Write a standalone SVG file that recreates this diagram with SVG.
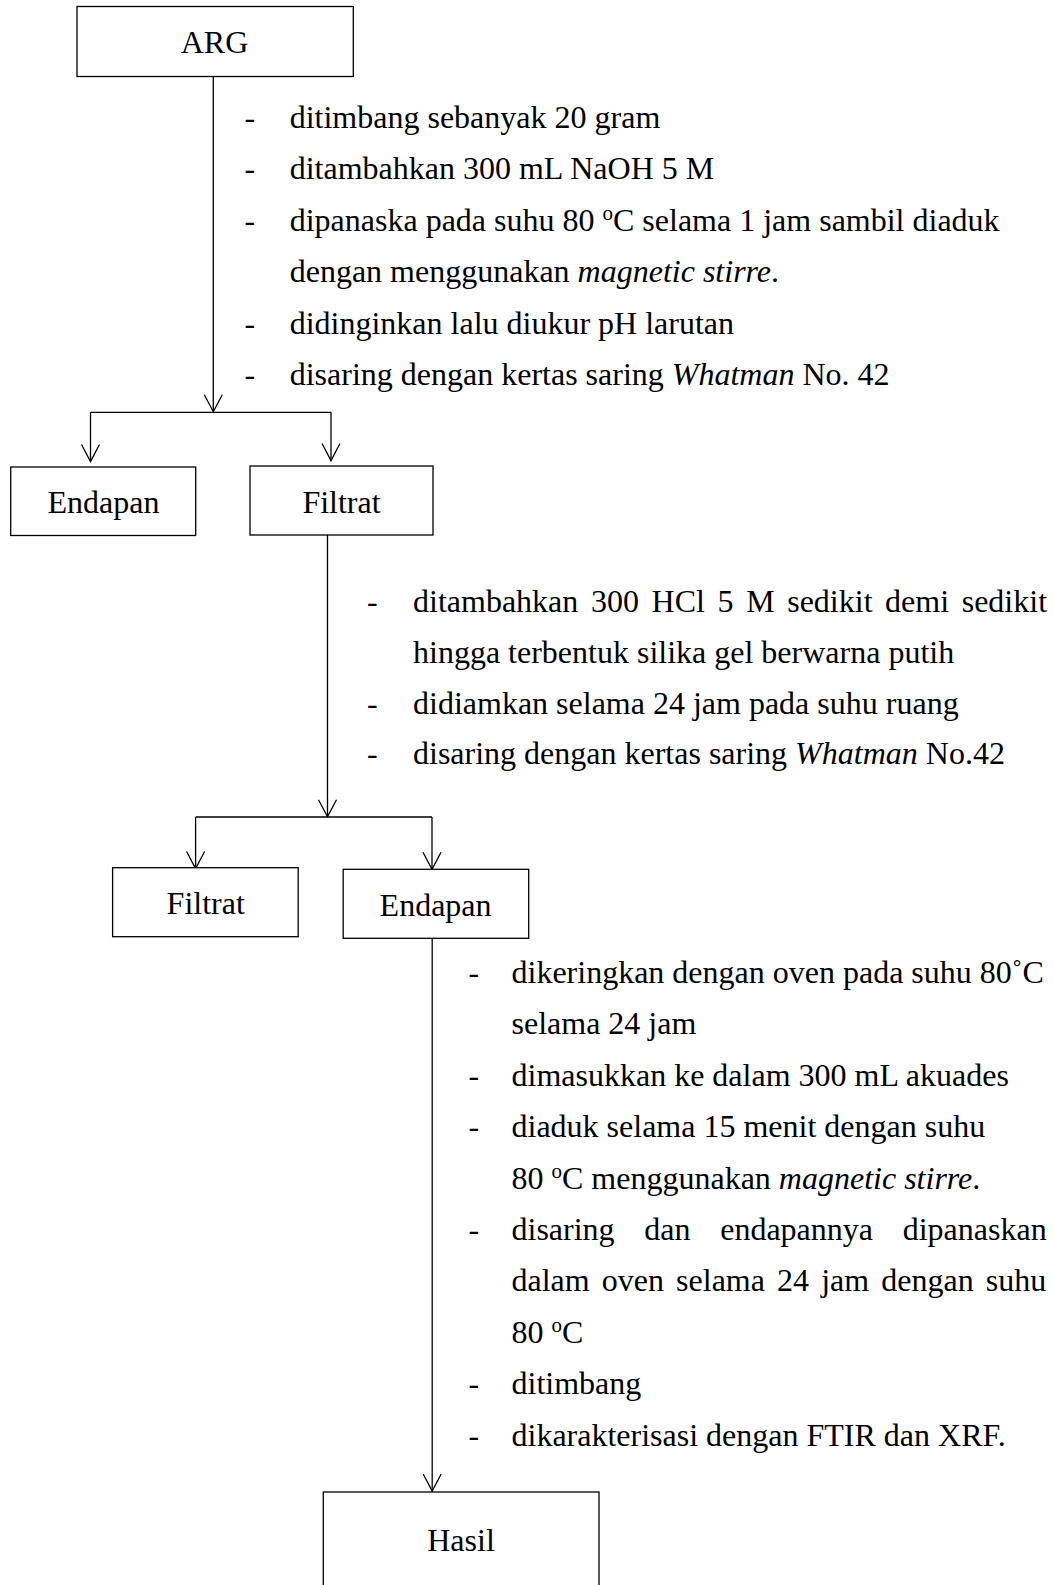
<svg xmlns="http://www.w3.org/2000/svg" width="1054" height="1585" viewBox="0 0 1054 1585">
<style>
.box{fill:#fff;stroke:#000;stroke-width:1.3}
.ln{fill:none;stroke:#000;stroke-width:1.3}
text{font-family:"Liberation Serif","Times New Roman",serif;font-size:32px;fill:#000}
.c{text-anchor:middle}
.i{font-style:italic}
</style>
<defs>
<marker id="ah" markerUnits="userSpaceOnUse" markerWidth="40" markerHeight="40" refX="0" refY="0" viewBox="-20 -20 40 40" orient="auto" overflow="visible">
<path d="M-17,-9 L0,0 L-17,9" fill="none" stroke="#000" stroke-width="1.3"/>
</marker>
</defs>
<rect width="1054" height="1585" fill="#fff"/>
<g id="connectors">
<path class="ln" d="M213.3,76.5 V411.7" marker-end="url(#ah)"/>
<path class="ln" d="M90.5,412.3 H331"/>
<path class="ln" d="M90.5,412.3 V461.5" marker-end="url(#ah)"/>
<path class="ln" d="M331,412.3 V460.5" marker-end="url(#ah)"/>
<path class="ln" d="M327.5,535 V816.7" marker-end="url(#ah)"/>
<path class="ln" d="M195.6,817 H432"/>
<path class="ln" d="M195.6,817 V868.5" marker-end="url(#ah)"/>
<path class="ln" d="M432,817 V869.3" marker-end="url(#ah)"/>
<path class="ln" d="M432.2,938.3 V1491" marker-end="url(#ah)"/>
</g>
<g id="node-arg">
<rect class="box" x="77" y="6.5" width="276.3" height="70"/>
<text class="c" x="214.5" y="53">ARG</text>
</g>
<g id="node-endapan1">
<rect class="box" x="10.7" y="467" width="185" height="68.5"/>
<text class="c" x="103.5" y="513">Endapan</text>
</g>
<g id="node-filtrat1">
<rect class="box" x="250" y="466" width="183" height="69"/>
<text class="c" x="341.5" y="512.7">Filtrat</text>
</g>
<g id="node-filtrat2">
<rect class="box" x="112.6" y="867.7" width="185.6" height="69"/>
<text class="c" x="205.7" y="914">Filtrat</text>
</g>
<g id="node-endapan2">
<rect class="box" x="343.2" y="869.3" width="185.5" height="69"/>
<text class="c" x="435.6" y="916">Endapan</text>
</g>
<g id="node-hasil">
<rect class="box" x="323.3" y="1492" width="275.7" height="120"/>
<text class="c" x="461" y="1551">Hasil</text>
</g>
<g id="steps-1">
<text x="244.4" y="127.5">-</text><text x="289.7" y="127.5">ditimbang sebanyak 20 gram</text>
<text x="244.4" y="179">-</text><text x="289.7" y="179">ditambahkan 300 mL NaOH 5 M</text>
<text x="244.4" y="230.5">-</text><text x="289.7" y="230.5">dipanaska pada suhu 80 <tspan font-size="21" dy="-11">o</tspan><tspan dy="11">C selama 1 jam sambil diaduk</tspan></text>
<text x="289.7" y="282">dengan menggunakan <tspan class="i">magnetic stirre</tspan>.</text>
<text x="244.4" y="333.5">-</text><text x="289.7" y="333.5">didinginkan lalu diukur pH larutan</text>
<text x="244.4" y="385">-</text><text x="289.7" y="385">disaring dengan kertas saring <tspan class="i">Whatman</tspan> No. 42</text>
</g>
<g id="steps-2">
<text x="367" y="612">-</text>
<text y="612"><tspan x="413">ditambahkan</tspan><tspan x="591">300</tspan><tspan x="651.6">HCl</tspan><tspan x="717.5">5</tspan><tspan x="746.2">M</tspan><tspan x="787.2">sedikit</tspan><tspan x="885.1">demi</tspan><tspan x="961.7">sedikit</tspan></text>
<text x="413" y="662.5">hingga terbentuk silika gel berwarna putih</text>
<text x="367" y="713.5">-</text><text x="413" y="713.5">didiamkan selama 24 jam pada suhu ruang</text>
<text x="367" y="764">-</text><text x="413" y="764">disaring dengan kertas saring <tspan class="i">Whatman</tspan> No.42</text>
</g>
<g id="steps-3">
<text x="468.5" y="983">-</text><text x="511.5" y="983">dikeringkan dengan oven pada suhu 80˚C</text>
<text x="511.5" y="1034.4">selama 24 jam</text>
<text x="468.5" y="1085.8">-</text><text x="511.5" y="1085.8">dimasukkan ke dalam 300 mL akuades</text>
<text x="468.5" y="1137.2">-</text><text x="511.5" y="1137.2">diaduk selama 15 menit dengan suhu</text>
<text x="511.5" y="1188.6">80 <tspan font-size="21" dy="-11">o</tspan><tspan dy="11">C menggunakan </tspan><tspan class="i">magnetic stirre</tspan>.</text>
<text x="468.5" y="1240">-</text>
<text y="1240"><tspan x="511.5">disaring</tspan><tspan x="644.3">dan</tspan><tspan x="720.2">endapannya</tspan><tspan x="902.7">dipanaskan</tspan></text>
<text y="1291.4"><tspan x="511.5">dalam</tspan><tspan x="601.8">oven</tspan><tspan x="676.1">selama</tspan><tspan x="777.1">24</tspan><tspan x="821.2">jam</tspan><tspan x="881.3">dengan</tspan><tspan x="985.8">suhu</tspan></text>
<text x="511.5" y="1342.8">80 <tspan font-size="21" dy="-11">o</tspan><tspan dy="11">C</tspan></text>
<text x="468.5" y="1394.2">-</text><text x="511.5" y="1394.2">ditimbang</text>
<text x="468.5" y="1445.6">-</text><text x="511.5" y="1445.6">dikarakterisasi dengan FTIR dan XRF.</text>
</g>
</svg>
